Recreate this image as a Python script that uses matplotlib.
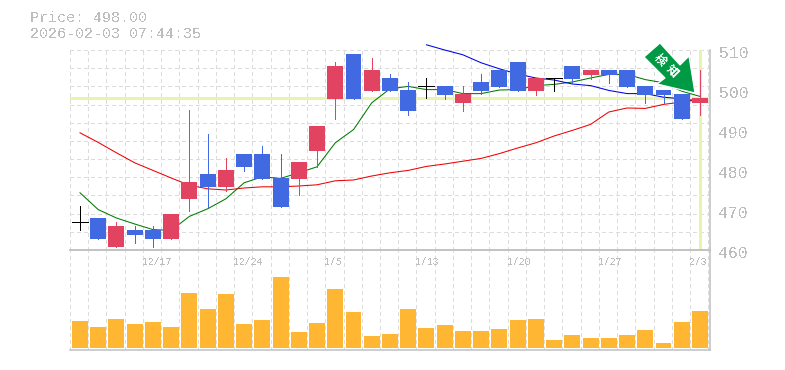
import matplotlib
matplotlib.use("Agg")
import matplotlib.pyplot as plt
from matplotlib.patches import Polygon

plt.rcParams['font.family'] = ['Liberation Mono', 'Noto Sans CJK JP', 'DejaVu Sans']
plt.rcParams['text.antialiased'] = False

body_top = [467.04,468.125,466.125,465.125,465.125,469.125,477.125,479.125,480.125,484.125,484.125,478.125,482.125,491.125,506.125,509.125,505.125,
            503.125,500.125,501.04,501.125,499.125,502.125,505.125,507.125,503.125,503.04,506.125,505.125,505.125,505.125,501.125,500.125,499.125,498.125]
body_bot = [467.04,462.875,460.875,463.875,462.875,462.875,472.875,475.875,475.875,480.875,477.875,470.875,477.875,484.875,497.875,497.875,499.875,
            499.875,494.875,501.04,498.875,496.875,499.875,500.875,499.875,499.875,503.04,502.875,503.875,503.875,500.875,498.875,498.875,492.875,496.875]
highs = [471.1,468.125,467.125,466.125,466.125,469.125,495.125,489.125,483.125,484.125,486.125,484.125,482.125,491.125,507.125,509.125,508.125,
         504.125,502.125,503.04,501.125,501.125,504.125,505.125,507.125,503.125,503.04,506.125,505.125,505.125,505.125,501.125,500.125,499.125,505.125]
lows = [464.96,462.875,460.875,461.875,460.875,462.875,469.875,470.875,474.875,479.875,477.875,470.875,473.875,480.875,492.875,497.875,499.875,
        499.875,493.875,498.04,497.875,494.875,499.125,500.875,499.875,498.875,499.875,501.875,502.875,501.875,500.875,496.875,496.875,492.875,493.875]
kinds = ['d','b','r','b','b','r','r','b','r','b','b','b','r','r','r','b','r',
         'b','b','d','b','r','b','b','b','r','d','b','r','b','b','b','b','b','r']
ma_short = [474.3,470.1,468.0,466.5,465.1,464.9,468.4,470.3,472.8,476.8,478.3,477.9,479.3,480.8,486.8,490.1,496.8,
            500.3,500.9,500.1,500.1,499.1,499.1,500.0,500.1,501.1,501.4,502.0,503.0,503.9,503.9,502.6,501.8,499.7,498.4]
ma_long = [489.3,486.9,484.3,481.8,479.9,478.0,476.2,475.3,475.0,475.5,475.8,475.8,476.0,476.3,477.3,477.5,478.5,
           479.3,479.9,480.9,481.5,482.2,482.9,484.1,485.5,486.8,488.5,489.9,491.4,494.5,495.5,495.4,496.4,497.0,497.6]
ma_mid = [None]*19 + [511.3,510.0,508.8,506.8,505.3,504.0,503.0,502.5,501.5,501.1,499.9,499.1,499.1,498.2,497.8,497.2]
volumes = [27,21,29,24,26,21,55,39,54,24,28,71,16,25,59,36,12,14,39,20,23,17,17,19,28,29,8,13,10,10,13,18,5,26,37]
date_idx = [4,9,14,19,24,29,34]
date_labels = ['12/17','12/24','1/5','1/13','1/20','1/27','2/3']
y_ticks = [460,470,480,490,500,510]
last_price = 498.0
title_lines = ['Price: 498.00','2026-02-03 07:44:35']

RED = '#e24360'; BLUE = '#4169e1'; GRID = '#dcdcdc'; EDGE = '#c0c0c0'; TXT = '#bdbdbd'; HL = '#e6f5a9'; VOL = '#ffb733'
PX = 0.72
W, H = 785, 370
fig = plt.figure(figsize=(W/100, H/100), dpi=100, facecolor='white')
def rect(l, t, r, b):
    return [l/W, 1-b/H, (r-l)/W, (b-t)/H]
ax = fig.add_axes(rect(70, 50, 710, 250))
av = fig.add_axes(rect(70, 250, 710, 350))
x0, x1 = -0.548, 34.55
n = len(kinds)
xs = list(range(n))
grid_x = [x0 + k for k in range(n + 1)]
for a in (ax, av):
    a.set_xlim(x0, x1)
    a.set_xticks([]); a.set_yticks([])
    a.patch.set_alpha(0)
    for s in a.spines.values():
        s.set_color(EDGE); s.set_linewidth(1.1)
    a.spines['left'].set_visible(False)
    a.vlines(grid_x, 0, 1, transform=a.get_xaxis_transform(), color=GRID, lw=PX*1.2, ls=(0, (3, 3)), zorder=0.5, antialiased=False)
ax.spines['top'].set_visible(False)
ax.set_ylim(460, 510)
ygrid = [460 + 50*k/11 for k in range(12)]
ax.hlines(ygrid, x0, x1, color=GRID, lw=PX*1.2, ls=(0, (3, 3)), zorder=0.5, antialiased=False)

ax.axhline(last_price, color=HL, lw=PX*3, zorder=1)
ax.axvline(xs[-1], color=HL, lw=PX*3, zorder=1)
mid_x = [x for x, v in zip(xs, ma_mid) if v is not None]
mid_y = [v for v in ma_mid if v is not None]
ax.plot(xs, ma_long, color='#f00000', lw=0.75, zorder=2)
ax.plot(xs, ma_short, color='#007a00', lw=0.75, zorder=2)
ax.plot(mid_x, mid_y, color='#0000e6', lw=0.75, zorder=2, clip_on=False)
for x, t, b, hi, lo, k in zip(xs, body_top, body_bot, highs, lows, kinds):
    c = {'r': RED, 'b': BLUE, 'd': 'black'}[k]
    ax.vlines(x, lo, hi, color=c, lw=PX, zorder=3, antialiased=False)
    if k == 'd':
        ax.hlines(t, x - 0.44, x + 0.44, color=c, lw=PX, zorder=3, antialiased=False)
    else:
        ax.bar(x, t - b, bottom=b, width=0.875, color=c, linewidth=0, zorder=3, antialiased=False)
av.bar(xs, volumes, width=0.875, color=VOL, linewidth=0, zorder=3, antialiased=False)
av.set_ylim(-2, 98)
for i, lab in zip(date_idx, date_labels):
    av.text(i + x0 - 0.04, 0.88, lab, transform=av.get_xaxis_transform(), color=TXT, fontsize=7.0, ha='left', va='center', zorder=4)
for v in y_ticks:
    ax.annotate(str(v), (1, v), xycoords=ax.get_yaxis_transform(), xytext=(6.2, -2.8), textcoords='offset points',
                color=TXT, fontsize=11.8, ha='left', va='center', annotation_clip=False)
for line, y in zip(title_lines, [18.5, 33.5]):
    fig.text(30/W, 1-y/H, line, color=TXT, fontsize=10.8, ha='left', va='center')

def px(pts):
    return [(x/W, 1-y/H) for x, y in pts]
arrow = [(660, 43), (644, 57), (665, 78), (657, 84), (695, 93), (689, 56), (680, 65)]
fig.patches.append(Polygon(px(arrow), closed=True, transform=fig.transFigure, facecolor='#009944', edgecolor='white', lw=0.9, zorder=5))
for ch, (cx, cy) in zip('検知', [(660, 60), (672, 71)]):
    fig.text(cx/W, 1-cy/H, ch, color='white', fontsize=8.5, rotation=-45, rotation_mode='anchor', ha='center', va='center',
             family=['Noto Sans CJK JP'], weight='bold', zorder=6)
fig.savefig('out.png', dpi=100)
